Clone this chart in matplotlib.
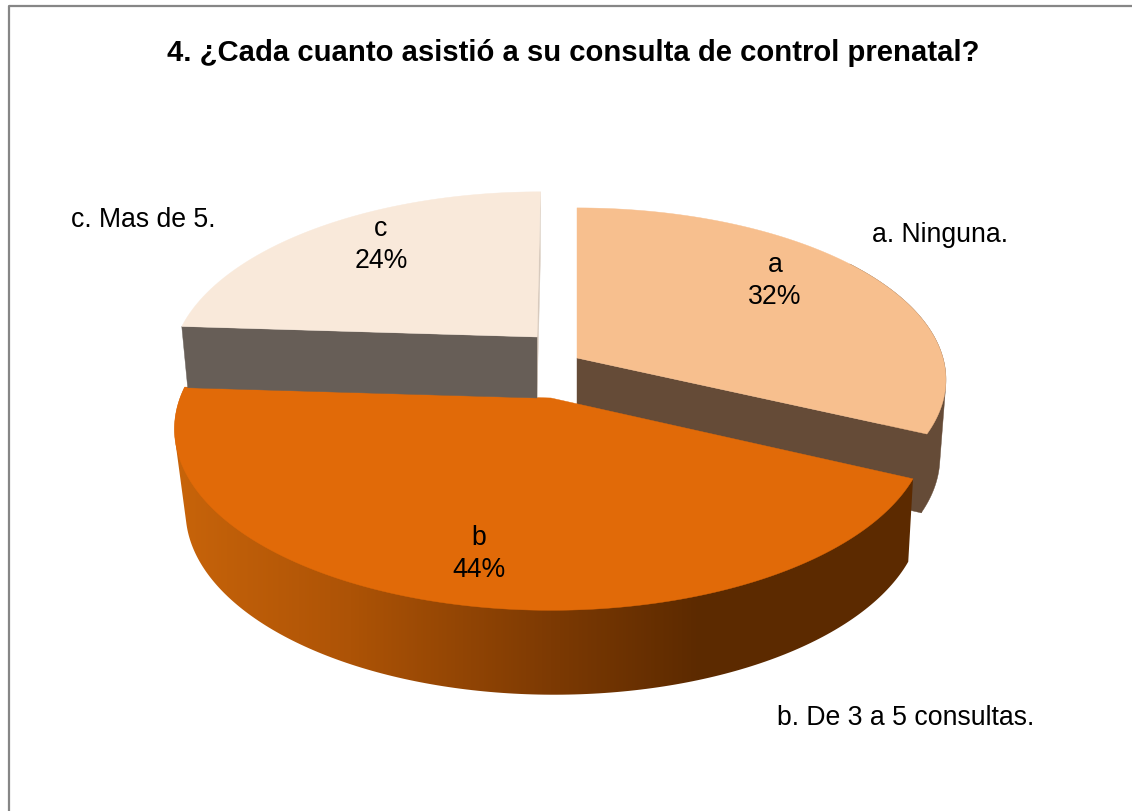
import numpy as np
import matplotlib
matplotlib.use("Agg")
import matplotlib.pyplot as plt
from matplotlib.colors import to_rgb
from matplotlib.patches import Polygon

plt.rcParams['font.family'] = ['Liberation Sans', 'DejaVu Sans']

title = "4. ¿Cada cuanto asistió a su consulta de control prenatal?"
names = ["a", "b", "c"]
legend_names = ["a. Ninguna.", "b. De 3 a 5 consultas.", "c. Mas de 5."]
values = [32, 44, 24]

# look of each slice, in pixels of the picture
top_colors = ["#f7bf8e", "#e16a08", "#f9e9da"]
cut_colors = ["#654b37", "#5c2a00", "#675e57"]
apex_x = [577, 551, 537]
apex_y = [358, 398, 337]
rad_x = [366, 371, 360]
rad_y = [169, 176, 170]
skew = [0, 0, 4]
persp = [0.126, 0.171, 0.171]
low_x = [577, 554, 537]
low_y = [435, 480, 398]
low_rad_x = [360, 363, 354]
low_rad_y = [173, 178, 165]
has_wall = [True, True, False]
cuts = [[-1], [], [-1, 0]]
label_xy = [(775, 281), (479, 554), (381, 245)]
legend_xy = [(872, 235), (777, 718), (71, 220)]

wall_x = [175, 350, 550, 700, 920]
wall_rgb = np.array([to_rgb(c) for c in ["#c8640a", "#ad5306", "#7d3a03", "#5c2a00", "#5c2a00"]])


def project(theta, cx, cy, rx, ry, sk, p):
    u, v = np.sin(theta), np.cos(theta)
    d = 1 + p * v
    return cx + (u * rx + sk * v) / d, cy - v * ry / d


def hull(xs, ys):
    # outline round the top and bottom arcs, gives the straight side edges of the wall
    pts = sorted(set(zip(xs.tolist(), ys.tolist())))

    def half(points):
        out = []
        for q in points:
            while len(out) > 1 and ((out[-1][0] - out[-2][0]) * (q[1] - out[-2][1])
                                    - (out[-1][1] - out[-2][1]) * (q[0] - out[-2][0])) <= 0:
                out.pop()
            out.append(q)
        return out[:-1]

    return np.array(half(pts) + half(pts[::-1]))


fig = plt.figure(figsize=(11.32, 8.11), dpi=100)
ax = fig.add_axes([0, 0, 1, 1])

# chart frame
ax.plot([8.5, 8.5, 1132], [811, 5.5, 5.5], color="#868686", lw=1.6)

stops = np.deg2rad(np.cumsum([0] + values) * 3.6)

for i in [2, 0, 1]:
    t = np.linspace(stops[i], stops[i + 1], 200)
    tx, ty = project(t, apex_x[i], apex_y[i], rad_x[i], rad_y[i], skew[i], persp[i])
    bx, by = project(t, low_x[i], low_y[i], low_rad_x[i], low_rad_y[i], skew[i], persp[i])

    # flat cuts going down from the top face to the bottom
    for k in cuts[i]:
        col = "#d8cabd" if i == 2 and k == -1 else cut_colors[i]
        ax.fill([apex_x[i], tx[k], bx[k], low_x[i]], [apex_y[i], ty[k], by[k], low_y[i]],
                color=col, lw=0.3, zorder=i * 3 + 1)

    # curved outer wall, the back of the arc stays out so it can't peek round the top face
    if has_wall[i]:
        front = np.cos(t) < 0.6
        wall = hull(np.r_[tx[front], bx[front]], np.r_[ty[front], by[front]])
        if i == 1:
            xs = np.arange(170, 925)
            grad = np.stack([np.interp(xs, wall_x, wall_rgb[:, n]) for n in range(3)], axis=-1)[None, :, :]
            im = ax.imshow(grad, extent=(170, 925, 700, 380), aspect="auto", zorder=i * 3 + 2)
            im.set_clip_path(Polygon(wall, transform=ax.transData))
        else:
            ax.fill(wall[:, 0], wall[:, 1], color=cut_colors[i], lw=0.3, zorder=i * 3 + 2)

    ax.fill(np.r_[apex_x[i], tx], np.r_[apex_y[i], ty], color=top_colors[i], lw=0.3, zorder=i * 3 + 3)

for i in range(3):
    ax.text(label_xy[i][0], label_xy[i][1], "%s\n%d%%" % (names[i], values[i]), ha="center", va="center",
            fontsize=19.2, linespacing=1.32, zorder=20, color="black")
    ax.text(legend_xy[i][0], legend_xy[i][1], legend_names[i], ha="left", va="center",
            fontsize=19.2, zorder=20, color="black")

ax.text(573, 53, title, ha="center", va="center", fontsize=21.1, fontweight="bold", color="black")

ax.set_xlim(0, 1132)
ax.set_ylim(811, 0)
ax.axis("off")

fig.savefig("out.png", dpi=100)
